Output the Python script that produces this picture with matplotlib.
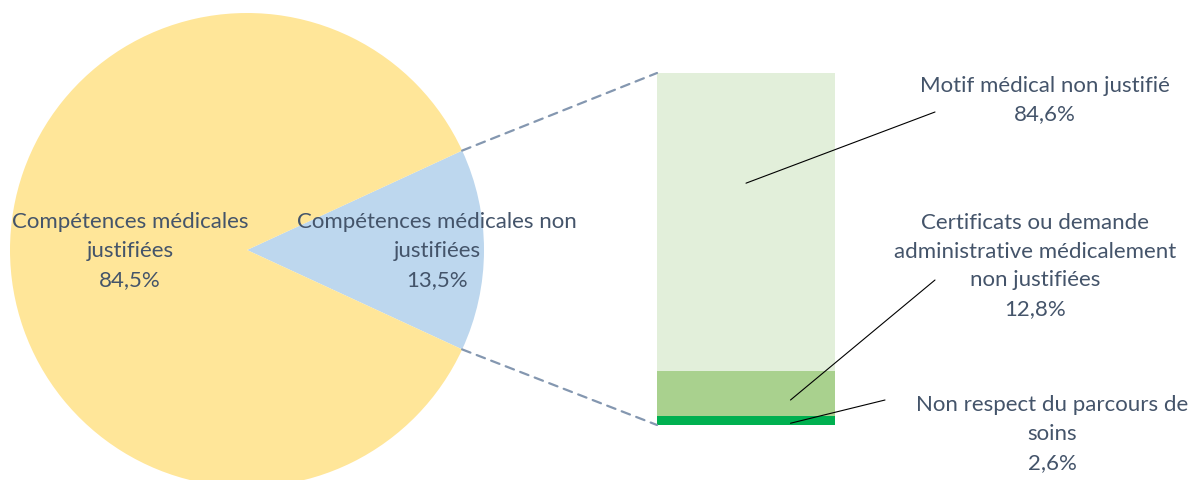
import numpy as np
import matplotlib
matplotlib.use("Agg")
import matplotlib.pyplot as plt
from matplotlib.patches import ConnectionPatch

plt.rcParams['font.family'] = ['Lato', 'DejaVu Sans']

# pie data
pie_labels = ['Compétences médicales non\njustifiées', 'Compétences médicales\njustifiées']
pie_values = [13.5, 84.5]
pie_colors = ['#BDD7EE', '#FFE699']

# bar (detail of the blue slice), bottom to top
bar_labels = ['Non respect du parcours de\nsoins',
              'Certificats ou demande\nadministrative médicalement\nnon justifiées',
              'Motif médical non justifié']
bar_values = [2.6, 12.8, 84.6]
bar_colors = ['#00B050', '#A9D18E', '#E2EFDA']

txt_col = '#44546A'
W, H = 1195, 480
fig = plt.figure(figsize=(W / 100, H / 100), dpi=100)

# pie axes, centre (247,250) px from top, radius 237 px
cx, cy, r = 247, H - 250, 237
ax_pie = fig.add_axes([(cx - r) / W, (cy - r) / H, 2 * r / W, 2 * r / H])
theta = pie_values[0] / sum(pie_values) * 360
wedges, _ = ax_pie.pie(pie_values, colors=pie_colors, startangle=-theta / 2,
                       counterclock=True, wedgeprops=dict(linewidth=0))
ax_pie.set_xlim(-1, 1)
ax_pie.set_ylim(-1, 1)
ax_pie.set_aspect('equal')
ax_pie.axis('off')

fs = 16
ls = 1.55
fig.text(130 / W, (H - 251) / H, pie_labels[1] + '\n' + f'{pie_values[1]:.1f}%'.replace('.', ','),
         ha='center', va='center', color=txt_col, fontsize=fs, linespacing=ls)
fig.text(437 / W, (H - 251) / H, pie_labels[0] + '\n' + f'{pie_values[0]:.1f}%'.replace('.', ','),
         ha='center', va='center', color=txt_col, fontsize=fs, linespacing=ls)

# bar axes
bx0, bx1, by_top, by_bot = 657, 835, 73, 425
ax_bar = fig.add_axes([bx0 / W, (H - by_bot) / H, (bx1 - bx0) / W, (by_bot - by_top) / H])
bottom = 0
for v, c in zip(bar_values, bar_colors):
    ax_bar.bar(0, v, bottom=bottom, width=1, color=c, linewidth=0)
    bottom += v
ax_bar.set_xlim(-0.5, 0.5)
ax_bar.set_ylim(0, sum(bar_values))
ax_bar.axis('off')

# dashed connectors from pie slice edges to bar corners
for ang, ytarget in [(theta / 2, sum(bar_values)), (-theta / 2, 0)]:
    a = np.deg2rad(ang)
    con = ConnectionPatch(xyA=(np.cos(a), np.sin(a)), coordsA=ax_pie.transData,
                          xyB=(-0.5, ytarget), coordsB=ax_bar.transData,
                          color='#8497B0', lw=1.6, linestyle=(0, (4, 3)))
    fig.add_artist(con)

# bar labels with leader lines
label_pos = [(1052, 434), (1035, 266), (1045, 100)]
leader_start = [(0.25, 0.5), (0.25, 7.1), (0.0, 68.7)]
leader_end = [(885, 400), (935, 280), (935, 112)]
for lab, v, (tx, ty), (lx, ly), (ex, ey) in zip(bar_labels, bar_values, label_pos,
                                                   leader_start, leader_end):
    fig.text(tx / W, (H - ty) / H, lab + '\n' + f'{v:.1f}%'.replace('.', ','),
             ha='center', va='center', color=txt_col, fontsize=fs, linespacing=ls)
    ax_bar.annotate('', xy=(lx, ly), xycoords='data', xytext=(ex, H - ey),
                    textcoords='figure pixels', annotation_clip=False,
                    arrowprops=dict(arrowstyle='-', color='black', lw=0.8,
                                    shrinkA=0, shrinkB=0))

fig.savefig('out.png', dpi=100)
